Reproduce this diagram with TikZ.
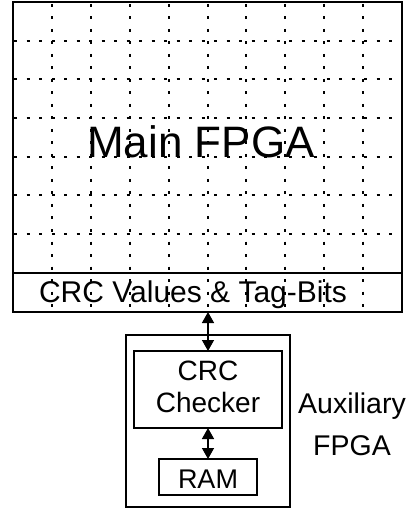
\documentclass[tikz,border=0pt]{standalone}
\usepackage{fontspec}
\setmainfont{Liberation Sans}
\usetikzlibrary{arrows.meta}
\begin{document}
\begin{tikzpicture}[x=1pt,y=-1pt,
  box/.style={draw,line width=1.4pt,inner sep=0pt,outer sep=0pt},
  inbox/.style={draw,line width=1.1pt,inner sep=0pt,outer sep=0pt},
  griddot/.style={line width=2pt,dash pattern=on 3pt off 9.5pt},
  dbl/.style={line width=1.4pt,{Triangle[length=11pt,width=12pt]}-{Triangle[length=11pt,width=12pt]}},
  lbl/.style={inner sep=0pt,align=center}]
\useasboundingbox (0,0) rectangle (417,510);
% grid
\foreach \k in {1,...,9}
  \draw[griddot] (13+38.9*\k,4) -- (13+38.9*\k,312);
\foreach \k in {1,...,6}
  \draw[griddot] (14,2+38.7*\k) -- (402,2+38.7*\k);
% boxes
\node[box,minimum width=389pt,minimum height=271pt] (main) at (207.5,137.5) {};
\node[box,minimum width=389pt,minimum height=39pt] (crc) at (207.5,292.5) {};
\node[box,minimum width=164pt,minimum height=172pt] (aux) at (208,421) {};
\node[inbox,minimum width=148pt,minimum height=77pt] (chk) at (208,389.5) {};
\node[inbox,minimum width=98pt,minimum height=36pt] (ram) at (208,477) {};
% labels
\node[lbl,font=\fontsize{44}{48}\selectfont,anchor=base] (mainlbl) at (201,158) {Main FPGA};
\node[lbl,font=\fontsize{30}{34}\selectfont,anchor=base] (crclbl) at (193,302) {CRC Values \& Tag-Bits};
\node[lbl,font=\fontsize{28}{32}\selectfont] (chklbl) at (208,387) {CRC\\Checker};
\node[lbl,font=\fontsize{27}{30}\selectfont,anchor=base] (ramlbl) at (208,488) {RAM};
\node[lbl,font=\fontsize{28.5}{42}\selectfont] (auxlbl) at (352,424) {Auxiliary\\FPGA};
% connectors
\draw[dbl] (chk.north |- crc.south) -- (chk.north);
\draw[dbl] (chk.south) -- (ram.north);
\end{tikzpicture}
\end{document}
